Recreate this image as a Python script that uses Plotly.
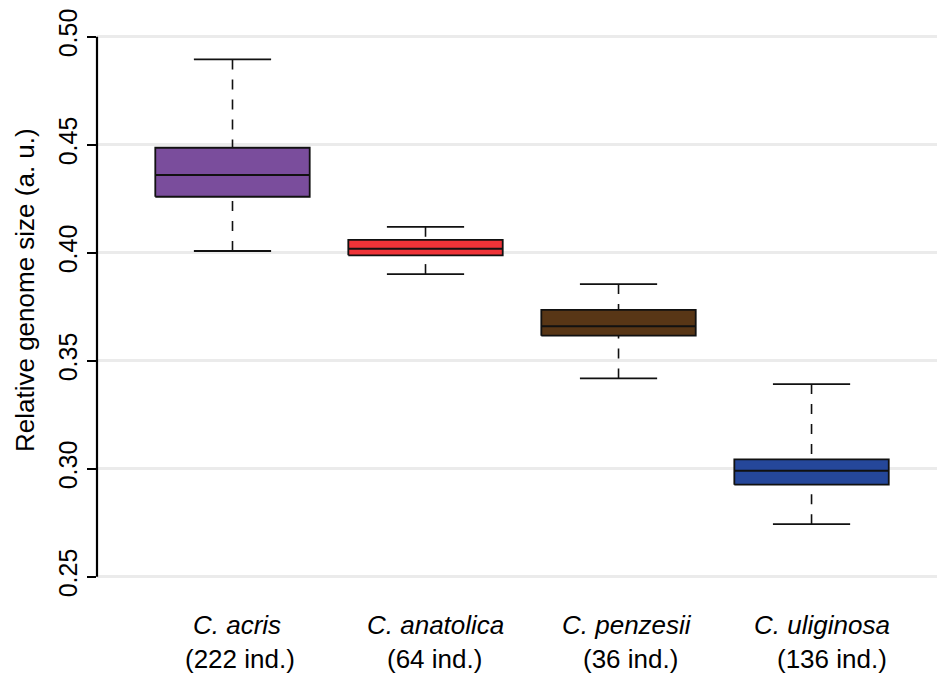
import plotly.graph_objects as go

# Five-number summaries of relative genome size per species
species = ["C. acris", "C. anatolica", "C. penzesii", "C. uliginosa"]
n_ind = [222, 64, 36, 136]
lower_whisker = [0.4008, 0.3901, 0.3418, 0.2743]
q1 = [0.4259, 0.3988, 0.3616, 0.2926]
median = [0.4360, 0.4018, 0.3659, 0.2991]
q3 = [0.4486, 0.4059, 0.3735, 0.3043]
upper_whisker = [0.4895, 0.4120, 0.3855, 0.3392]
y_ticks = [0.25, 0.30, 0.35, 0.40, 0.45, 0.50]

# Styling
fills = ["#7A4D9C", "#EE3338", "#583616", "#25479A"]
box_half = 0.4
cap_half = 0.2
label_shift_name = [4, 10, 8, 10]
label_shift_count = [7, 9, 12, 20]
FONT = "Liberation Sans, Arial, sans-serif"

fig = go.Figure()

for i, name in enumerate(species):
    x = i + 1
    # dashed whiskers, drawn from each cap towards the box
    fig.add_trace(go.Scatter(
        x=[x, x, None, x, x],
        y=[upper_whisker[i], q3[i], None, lower_whisker[i], q1[i]],
        mode="lines", line=dict(color="#111111", width=1.6, dash="10px,10px"),
        hoverinfo="skip", showlegend=False))
    # whisker caps
    fig.add_trace(go.Scatter(
        x=[x - cap_half, x + cap_half, None, x - cap_half, x + cap_half],
        y=[upper_whisker[i], upper_whisker[i], None, lower_whisker[i], lower_whisker[i]],
        mode="lines", line=dict(color="#111111", width=1.8),
        hoverinfo="skip", showlegend=False))
    # interquartile box
    fig.add_trace(go.Scatter(
        x=[x - box_half, x + box_half, x + box_half, x - box_half, x - box_half],
        y=[q1[i], q1[i], q3[i], q3[i], q1[i]],
        mode="lines", fill="toself", fillcolor=fills[i],
        line=dict(color="#111111", width=1.8),
        name=name, showlegend=False))
    # median
    fig.add_trace(go.Scatter(
        x=[x - box_half, x + box_half], y=[median[i], median[i]],
        mode="lines", line=dict(color="#111111", width=2),
        hoverinfo="skip", showlegend=False))

    fig.add_annotation(
        x=x, y=0, xref="x", yref="paper", yanchor="middle",
        yshift=-(625 - 598), xshift=label_shift_name[i],
        text=f"<i>{name}</i>", showarrow=False,
        font=dict(family=FONT, size=26, color="#000000"))
    fig.add_annotation(
        x=x, y=0, xref="x", yref="paper", yanchor="middle",
        yshift=-(659 - 598), xshift=label_shift_count[i],
        text=f"({n_ind[i]} ind.)", showarrow=False,
        font=dict(family=FONT, size=26, color="#000000"))

# y-axis title
fig.add_annotation(
    x=0, y=0.5, xref="paper", yref="paper", xanchor="center", yanchor="middle",
    xshift=-(97 - 25), yshift=(598 - 15) / 2 - (290 - 15),
    text="Relative genome size (a. u.)", textangle=-90, showarrow=False,
    font=dict(family=FONT, size=26, color="#000000"))

# axis line covering only the tick span
fig.add_shape(type="line", xref="paper", yref="y", x0=0, x1=0,
              y0=y_ticks[0], y1=y_ticks[-1],
              line=dict(color="#000000", width=2.2))

fig.update_layout(
    width=937, height=676,
    margin=dict(l=97, r=0, t=15, b=78),
    paper_bgcolor="white", plot_bgcolor="white",
    xaxis=dict(range=[0.298, 4.650], showgrid=False, zeroline=False,
               showline=False, showticklabels=False, ticks=""),
    yaxis=dict(range=[0.24014, 0.51005], tickvals=y_ticks,
               ticktext=[f"{v:.2f}" for v in y_ticks],
               tickangle=-90, ticks="outside", ticklen=9, tickwidth=2.2,
               tickcolor="#000000", showgrid=True, gridcolor="#EBEBEB",
               gridwidth=2.5, zeroline=False, showline=False,
               tickfont=dict(family=FONT, size=25, color="#000000")),
)

fig.write_html("out.html")
